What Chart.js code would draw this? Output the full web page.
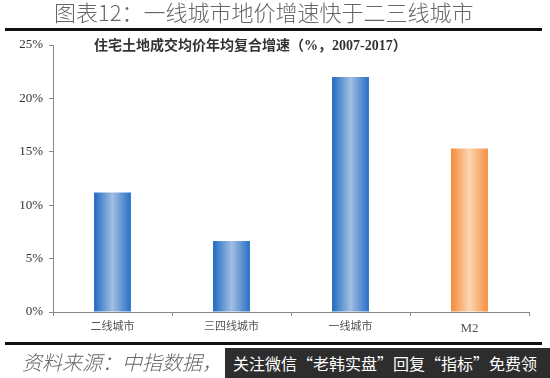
<!DOCTYPE html>
<html>
<head>
<meta charset="utf-8">
<script src="https://cdn.jsdelivr.net/npm/chart.js@4/dist/chart.umd.min.js"></script>
<style>
    html, body { margin: 0; padding: 0; background: #fff; }
    #wrap { position: relative; width: 550px; height: 378px; overflow: hidden; }
    #chart { position: absolute; left: 0; top: 0; }
    .txt { position: absolute; white-space: nowrap; font-family: 'Noto Sans CJK SC', sans-serif; }
    .rule { position: absolute; left: 5px; width: 537px; height: 3px; background: #111; }
</style>
</head>
<body>
<div id="wrap">
    <canvas id="chart" width="550" height="378"></canvas>
    <div class="txt" style="left:54px; top:-3px; font-size:22px; font-weight:300; color:#666; line-height:28px;">图表12：一线城市地价增速快于二三线城市</div>
    <div class="rule" style="top:28px;"></div>
    <div class="txt" style="left:94px; top:36px; font-size:14px; font-weight:bold; color:#333; line-height:20px; font-family:'Liberation Serif','Noto Sans CJK SC',serif;">住宅土地成交均价年均复合增速（%，2007-2017）</div>
    <div class="rule" style="top:342px;"></div>
    <div class="txt" style="left:22px; top:349px; font-size:20px; font-weight:300; font-style:italic; color:#666; line-height:26px;">资料来源：中指数据，</div>
    <div class="txt" style="left:225px; top:348px; width:325px; height:30px; background:#2d2d2d; color:#fff; font-size:16px; line-height:30px; padding-left:8px; box-sizing:border-box;">关注微信“老韩实盘”回复“指标”免费领</div>
</div>
<script>
// values (%)
const categories = ['二线城市', '三四线城市', '一线城市', 'M2'];
const growth = [11.2, 6.65, 22.0, 15.3];
const yTicks = [0, 5, 10, 15, 20, 25];

const blue = ['#1e6bc0', '#a2bee2', '#2870c6'];
const orange = ['#f58a3a', '#fdd6b2', '#f68f40'];

function barFill(ctx) {
    const chart = ctx.chart;
    const area = chart.chartArea;
    const pal = categories[ctx.dataIndex] === 'M2' ? orange : blue;
    if (!area) return pal[0];
    const x = chart.scales.x.getPixelForValue(ctx.dataIndex);
    const w = (area.right - area.left) / categories.length * 0.31;
    const g = chart.ctx.createLinearGradient(x - w / 2, 0, x + w / 2, 0);
    g.addColorStop(0, pal[0]);
    g.addColorStop(0.5, pal[1]);
    g.addColorStop(1, pal[2]);
    return g;
}

new Chart(document.getElementById('chart'), {
    type: 'bar',
    data: {
        labels: categories,
        datasets: [{
            data: growth,
            backgroundColor: barFill,
            borderWidth: 0,
            categoryPercentage: 1,
            barPercentage: 0.31
        }]
    },
    options: {
        responsive: false,
        animation: false,
        layout: { padding: { top: 45, right: 21, left: 0, bottom: 0 } },
        plugins: { legend: { display: false }, tooltip: { enabled: false } },
        scales: {
            x: {
                grid: { drawOnChartArea: false, drawTicks: true, tickLength: 4, color: '#888', offset: true },
                border: { color: '#888', width: 1 },
                ticks: {
                    padding: 5,
                    color: '#555',
                    font: c => ({
                        family: "'Liberation Serif','Noto Sans CJK SC',serif",
                        size: categories[c.index] === 'M2' ? 13 : 11
                    })
                },
                afterFit: s => { s.height = 66; }
            },
            y: {
                min: 0,
                max: 25,
                afterBuildTicks: s => { s.ticks = yTicks.map(v => ({ value: v })); },
                grid: { drawOnChartArea: false, drawTicks: true, tickLength: 4, color: '#888' },
                border: { color: '#888', width: 1 },
                ticks: {
                    padding: 6,
                    color: '#333',
                    font: { family: "'Liberation Serif',serif", size: 13 },
                    callback: v => v + '%'
                },
                afterFit: s => { s.width = 53; }
            }
        }
    }
});
</script>
</body>
</html>
